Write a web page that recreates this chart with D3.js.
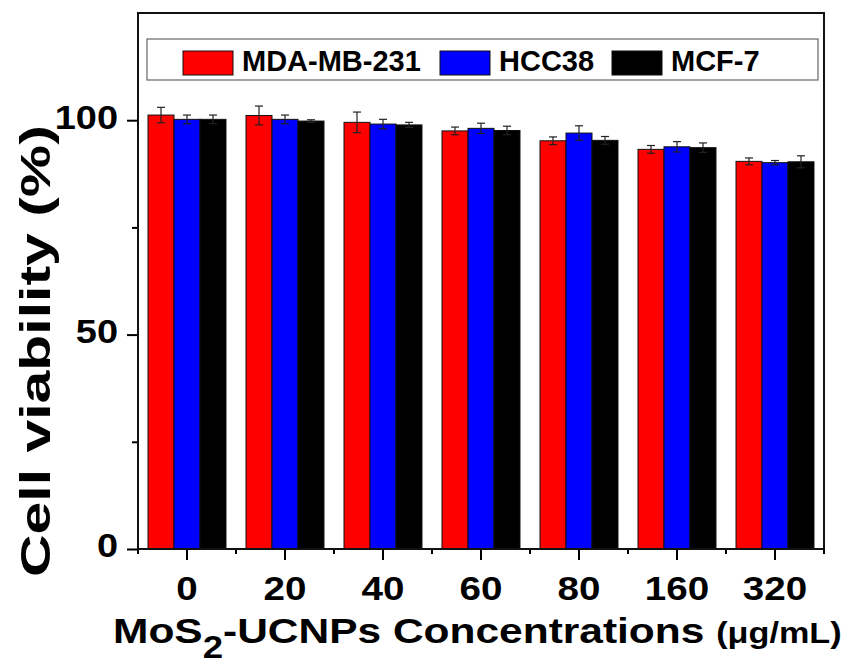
<!DOCTYPE html>
<html>
<head>
<meta charset="utf-8">
<script src="https://cdn.jsdelivr.net/npm/d3@7"></script>
<style>
  body { margin: 0; background: #fff; }
  svg { display: block; font-family: "Liberation Sans", Arial, sans-serif; font-weight: bold; }
</style>
</head>
<body>
<svg id="chart" width="852" height="664"></svg>
<script>
// concentrations (ug/mL)
var concentrations = ['0', '20', '40', '60', '80', '160', '320'];
var seriesNames = ['MDA-MB-231', 'HCC38', 'MCF-7'];
var seriesColors = ['#ff0000', '#0000ff', '#000000'];

// cell viability (%)
var mdaValues = [101.2, 101.1, 99.5, 97.5, 95.2, 93.2, 90.4];
var hccValues = [100.2, 100.2, 99.1, 98.1, 97.0, 93.8, 90.1];
var mcfValues = [100.2, 99.8, 98.9, 97.6, 95.3, 93.6, 90.3];
// error bar half lengths
var mdaErr = [1.8, 2.2, 2.4, 0.9, 0.9, 0.9, 0.8];
var hccErr = [1.0, 1.0, 1.1, 1.2, 1.7, 1.2, 0.5];
var mcfErr = [1.0, 0.3, 0.6, 1.0, 0.9, 1.1, 1.4];

var yMajorTicks = [0, 50, 100];
var yMinorTicks = [25, 75];

var allValues = [mdaValues, hccValues, mcfValues];
var allErr = [mdaErr, hccErr, mcfErr];

var margin = { top: 13, right: 28, bottom: 115, left: 138 };
var svgWidth = 852, svgHeight = 664;
var width = svgWidth - margin.left - margin.right;
var height = svgHeight - margin.top - margin.bottom;

var svg = d3.select('#chart');
var g = svg.append('g')
  .attr('transform', 'translate(' + margin.left + ',' + margin.top + ')');

var x = d3.scaleBand().domain(concentrations).range([0, width]).padding(0);
var xs = d3.scaleBand().domain(seriesNames).range([0, x.bandwidth()])
  .paddingInner(0).paddingOuter(0.385);
var y = d3.scaleLinear().domain([0, 125]).range([height, 0]);

// flatten into bar records
var bars = [];
concentrations.forEach(function(c, i) {
  seriesNames.forEach(function(s, j) {
    bars.push({ conc: c, series: s, color: seriesColors[j], value: allValues[j][i], err: allErr[j][i] });
  });
});

// bars
g.selectAll('rect.bar')
  .data(bars)
  .enter().append('rect')
  .attr('class', 'bar')
  .attr('x', function(d) { return x(d.conc) + xs(d.series); })
  .attr('y', function(d) { return y(d.value); })
  .attr('width', xs.bandwidth())
  .attr('height', function(d) { return y(0) - y(d.value); })
  .attr('fill', function(d) { return d.color; })
  .attr('stroke', '#111')
  .attr('stroke-width', 1);

// error bars
var capW = 8;
function cx(d) { return x(d.conc) + xs(d.series) + xs.bandwidth() / 2; }
var eb = g.selectAll('g.err').data(bars).enter().append('g').attr('class', 'err')
  .attr('stroke', '#222').attr('stroke-width', 1.2);
eb.append('line')
  .attr('x1', cx).attr('x2', cx)
  .attr('y1', function(d) { return y(d.value - d.err); })
  .attr('y2', function(d) { return y(d.value + d.err); });
eb.append('line')
  .attr('x1', function(d) { return cx(d) - capW / 2; })
  .attr('x2', function(d) { return cx(d) + capW / 2; })
  .attr('y1', function(d) { return y(d.value + d.err); })
  .attr('y2', function(d) { return y(d.value + d.err); });
eb.append('line')
  .attr('x1', function(d) { return cx(d) - capW / 2; })
  .attr('x2', function(d) { return cx(d) + capW / 2; })
  .attr('y1', function(d) { return y(d.value - d.err); })
  .attr('y2', function(d) { return y(d.value - d.err); });

// y axis, major + minor
var yAxis = g.append('g')
  .call(d3.axisLeft(y).tickValues(yMajorTicks).tickSize(11).tickFormat(d3.format('d')))
  .attr('font-family', null).attr('font-size', null);
yAxis.selectAll('line').attr('stroke', '#000').attr('stroke-width', 2);
yAxis.selectAll('text')
  .attr('x', 0).attr('dy', '0.33em')
  .attr('transform', 'translate(-20,-3) scale(1.15,1)')
  .style('font-size', '33px').attr('fill', '#000');
g.append('g')
  .call(d3.axisLeft(y).tickValues(yMinorTicks).tickSize(6).tickFormat(''))
  .selectAll('line').attr('stroke', '#000').attr('stroke-width', 2);

// x axis, major at categories, minor at band edges
var xAxis = g.append('g')
  .attr('transform', 'translate(0,' + height + ')')
  .call(d3.axisBottom(x).tickSize(11).tickPadding(17))
  .attr('font-family', null).attr('font-size', null);
xAxis.selectAll('line').attr('stroke', '#000').attr('stroke-width', 2);
xAxis.selectAll('text')
  .attr('transform', 'scale(1.17,1)')
  .style('font-size', '33px').attr('fill', '#000');
var edges = concentrations.map(function(c) { return x(c); }).concat([x.range()[1]]);
g.append('g').selectAll('line').data(edges).enter().append('line')
  .attr('x1', function(d) { return d; }).attr('x2', function(d) { return d; })
  .attr('y1', height).attr('y2', height + 5)
  .attr('stroke', '#000').attr('stroke-width', 2);

svg.selectAll('.domain').remove();

// frame
g.append('rect')
  .attr('x', 0).attr('y', 0).attr('width', width).attr('height', height)
  .attr('fill', 'none').attr('stroke', '#111').attr('stroke-width', 2);

// legend
var legend = svg.append('g');
legend.append('rect')
  .attr('x', 147).attr('y', 39).attr('width', 671).attr('height', 41)
  .attr('fill', '#fff').attr('stroke', '#666').attr('stroke-width', 1.2);
var legendX = [183, 440, 612];
var li = legend.selectAll('g.item').data(seriesNames).enter().append('g')
  .attr('transform', function(d, i) { return 'translate(' + legendX[i] + ',51)'; });
li.append('rect')
  .attr('width', 50).attr('height', 24)
  .attr('fill', function(d, i) { return seriesColors[i]; })
  .attr('stroke', '#111').attr('stroke-width', 1);
li.append('text')
  .attr('x', 59).attr('y', 20)
  .style('font-size', '29px').attr('fill', '#000')
  .text(function(d) { return d; });

// axis titles, stretched to the width they take in the picture
function stretchTo(sel, x0, baseline, targetW) {
  var w = sel.node().getBBox().width;
  sel.attr('transform', 'translate(' + x0 + ',' + baseline + ') scale(' + (targetW / w) + ',1)');
}

var xt = svg.append('text').attr('x', 0).attr('y', 0).attr('fill', '#000').style('font-size', '36px');
xt.append('tspan').text('MoS');
xt.append('tspan').attr('dy', 15).style('font-size', '31px').text('2');
xt.append('tspan').attr('dy', -15).text('-UCNPs Concentrations ');
xt.append('tspan').style('font-size', '29px').text('(\u03bcg/mL)');
stretchTo(xt, 113, 643, 729);

var yt = svg.append('text').attr('x', 0).attr('y', 0).attr('fill', '#000')
  .style('font-size', '43px').text('Cell viability (%)');
var ytw = yt.node().getBBox().width;
yt.attr('transform', 'translate(50,577) rotate(-90) scale(' + (452 / ytw) + ',1)');
</script>
</body>
</html>
